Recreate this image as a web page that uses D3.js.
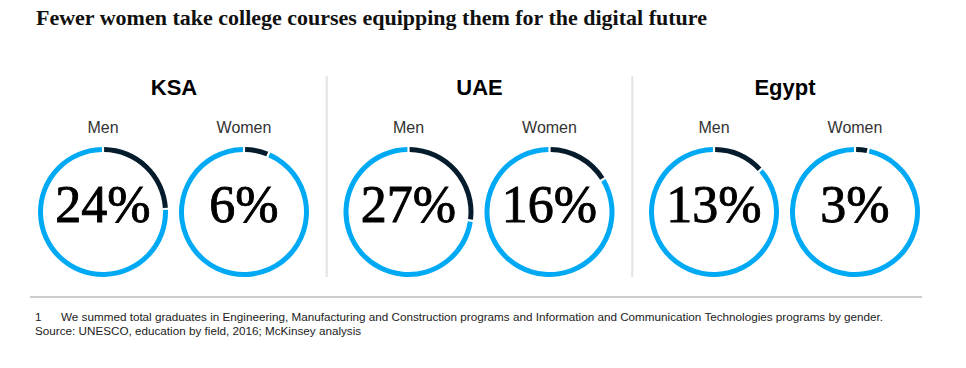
<!DOCTYPE html>
<html>
<head>
  <meta charset="utf-8">
  <title>D3</title>
  <script src="https://d3js.org/d3.v7.min.js"></script>
  <style>
    body { margin: 0; background: #fff; }
  </style>
</head>
<body>
<script>
  // data
  var countries = ["KSA", "UAE", "Egypt"];
  var genders = ["Men", "Women"];
  var shares = [[24, 6], [27, 16], [13, 3]];

  var w = 966, h = 368;
  var svg = d3.select("body").append("svg").attr("width", w).attr("height", h);

  var groupX = d3.scalePoint().domain(countries).range([174, 785]);
  var ringX = d3.scalePoint().domain(genders).range([-71, 70]);
  var cy = 212;

  var arc = d3.arc().innerRadius(60).outerRadius(65);
  var pie = d3.pie().sort(null).value(function(d) { return d; }).padAngle(0.025);

  svg.append("text")
    .attr("x", 36).attr("y", 25)
    .attr("font-family", "Liberation Serif")
    .attr("font-weight", "bold")
    .attr("font-size", "22px")
    .attr("fill", "#111")
    .text("Fewer women take college courses equipping them for the digital future");

  // dividers
  svg.selectAll("line.div").data(countries.slice(1)).enter().append("line")
    .attr("class", "div")
    .attr("x1", function(d, i) { return (groupX(countries[i]) + groupX(d)) / 2; })
    .attr("x2", function(d, i) { return (groupX(countries[i]) + groupX(d)) / 2; })
    .attr("y1", 76).attr("y2", 277)
    .attr("stroke", "#e3e3e3").attr("stroke-width", 2);

  var groups = svg.selectAll("g.country").data(countries).enter().append("g")
    .attr("class", "country")
    .attr("transform", function(d) { return "translate(" + groupX(d) + ",0)"; });

  groups.append("text")
    .attr("y", 95)
    .attr("text-anchor", "middle")
    .attr("font-family", "Liberation Sans")
    .attr("font-weight", "bold")
    .attr("font-size", "22px")
    .attr("fill", "#000")
    .text(function(d) { return d; });

  var rings = groups.selectAll("g.ring")
    .data(function(d, i) { return shares[i].map(function(v, j) { return {g: genders[j], v: v}; }); })
    .enter().append("g")
    .attr("class", "ring")
    .attr("transform", function(d) { return "translate(" + ringX(d.g) + "," + cy + ")"; });

  rings.append("text")
    .attr("y", -79)
    .attr("text-anchor", "middle")
    .attr("font-family", "Liberation Sans")
    .attr("font-size", "16px")
    .attr("fill", "#333")
    .text(function(d) { return d.g; });

  rings.selectAll("path")
    .data(function(d) { return pie([d.v, 100 - d.v]); })
    .enter().append("path")
    .attr("d", arc)
    .attr("fill", function(d, i) { return i == 0 ? "#051c2c" : "#00a9f4"; });

  rings.append("text")
    .attr("y", 10)
    .attr("text-anchor", "middle")
    .attr("font-family", "Liberation Serif")
    .attr("font-size", "52px")
    .attr("fill", "#000")
    .attr("stroke", "#000")
    .attr("stroke-width", 0.9)
    .text(function(d) { return d.v + "%"; });

  // footnote
  svg.append("line")
    .attr("x1", 30).attr("x2", 922).attr("y1", 297).attr("y2", 297)
    .attr("stroke", "#999").attr("stroke-width", 1);

  svg.append("text").attr("x", 35).attr("y", 321)
    .attr("font-family", "Liberation Sans").attr("font-size", "11.7px").attr("fill", "#222")
    .text("1");
  svg.append("text").attr("x", 61).attr("y", 321)
    .attr("font-family", "Liberation Sans").attr("font-size", "11.7px").attr("fill", "#222")
    .text("We summed total graduates in Engineering, Manufacturing and Construction programs and Information and Communication Technologies programs by gender.");
  svg.append("text").attr("x", 35).attr("y", 335)
    .attr("font-family", "Liberation Sans").attr("font-size", "11.7px").attr("fill", "#222")
    .text("Source: UNESCO, education by field, 2016; McKinsey analysis");
</script>
</body>
</html>
